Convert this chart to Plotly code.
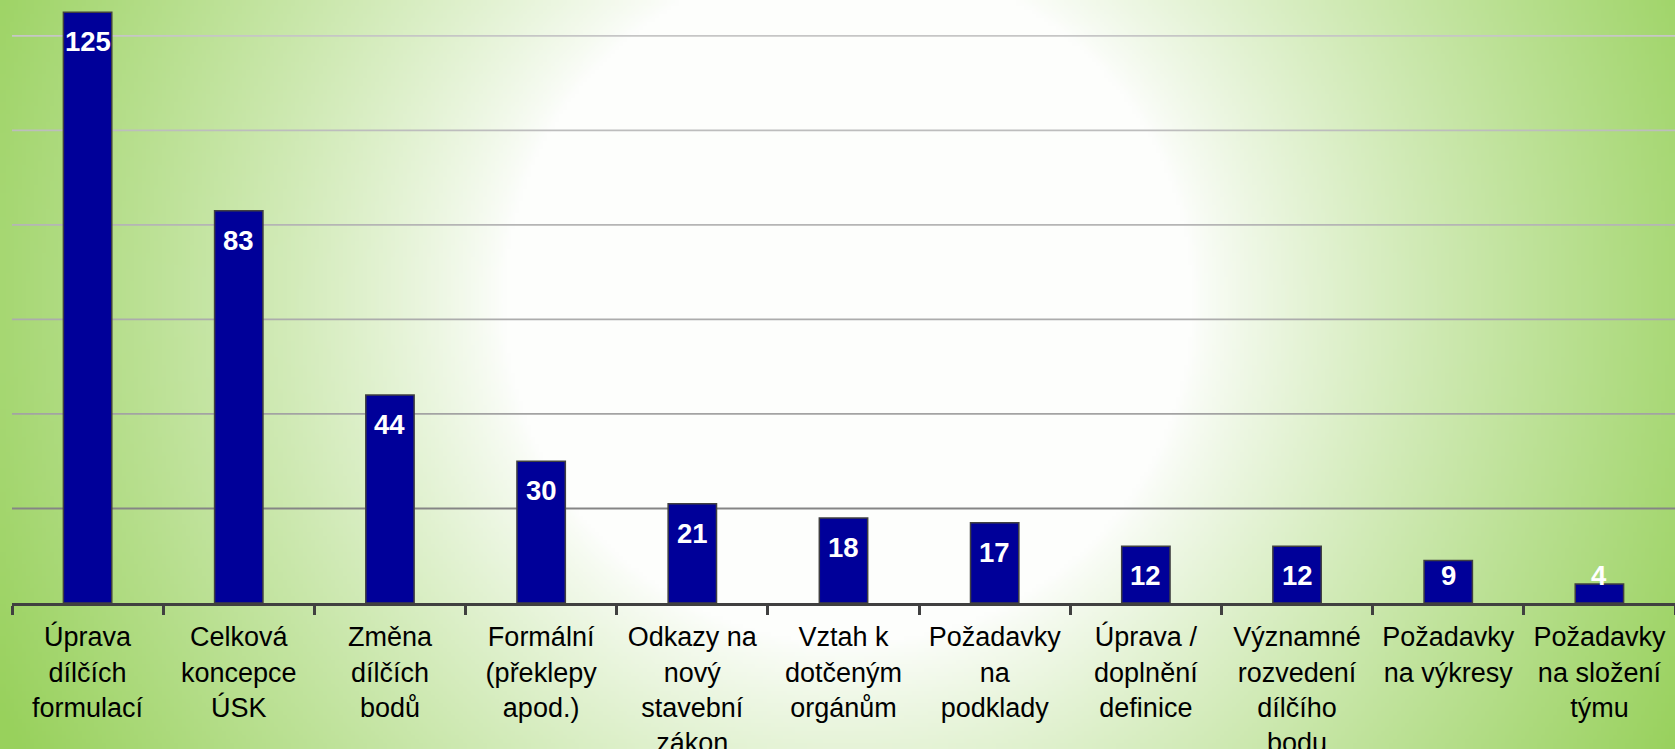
import base64
import struct
import zlib

import numpy as np
import plotly.graph_objects as go

# ---------------- data ----------------
categories = [
    "Úprava<br>dílčích<br>formulací",
    "Celková<br>koncepce<br>ÚSK",
    "Změna<br>dílčích<br>bodů",
    "Formální<br>(překlepy<br>apod.)",
    "Odkazy na<br>nový<br>stavební<br>zákon",
    "Vztah k<br>dotčeným<br>orgánům",
    "Požadavky<br>na<br>podklady",
    "Úprava /<br>doplnění<br>definice",
    "Významné<br>rozvedení<br>dílčího<br>bodu",
    "Požadavky<br>na výkresy",
    "Požadavky<br>na složení<br>týmu",
]
values = [125, 83, 44, 30, 21, 18, 17, 12, 12, 9, 4]
grid_values = [20, 40, 60, 80, 100, 120]
grid_colors = ["#858585", "#a3a3a3", "#acacac", "#b5b5b5", "#bdbdbd", "#c6c6c6"]

W, H = 1675, 749
FONT = "Liberation Sans, Arial, sans-serif"


# ---------------- radial gradient background (PNG) ----------------
def make_png(arr):
    h, w, _ = arr.shape
    raw = b"".join(b"\x00" + arr[r].tobytes() for r in range(h))

    def chunk(tag, data):
        c = struct.pack(">I", len(data)) + tag + data
        return c + struct.pack(">I", zlib.crc32(tag + data) & 0xFFFFFFFF)

    png = b"\x89PNG\r\n\x1a\n"
    png += chunk(b"IHDR", struct.pack(">IIBBBBB", w, h, 8, 2, 0, 0, 0))
    png += chunk(b"IDAT", zlib.compress(raw, 9))
    png += chunk(b"IEND", b"")
    return "data:image/png;base64," + base64.b64encode(png).decode()


S = 4
gw, gh = W // S, H // S + 1
yy, xx = np.mgrid[0:gh, 0:gw].astype(float)
xx = xx * S
yy = yy * S
d = np.sqrt((xx - 845) ** 2 + (yy - 300) ** 2)
t = np.clip((d - 345) / 600.0, 0, 1) ** 0.85
white = np.array([253, 254, 252], float)
green = np.array([152, 209, 92], float)
img = (white[None, None, :] * (1 - t[..., None]) + green[None, None, :] * t[..., None])
img = np.clip(img, 0, 255).astype(np.uint8)
bg_src = make_png(img)

# ---------------- figure ----------------
ML, MR, MT, MB = 12, 0, 0, 146
PW, PH = W - ML - MR, H - MT - MB

fig = go.Figure()
fig.add_trace(
    go.Bar(
        x=categories,
        y=values,
        marker=dict(color="#000099", line=dict(color="#404040", width=1.5)),
        hoverinfo="x+y",
    )
)

# data labels (inside end, white bold)
label_floor = 12
for c, v in zip(categories, values):
    fig.add_annotation(
        x=c,
        y=max(v, label_floor),
        text=str(v),
        showarrow=False,
        yanchor="top",
        yshift=-12,
        font=dict(family=FONT, size=27.5, color="white", weight="bold"),
    )

# gridlines
for gv, gc in zip(grid_values, grid_colors):
    fig.add_shape(
        type="line", xref="paper", x0=0, x1=1, yref="y", y0=gv, y1=gv,
        line=dict(color=gc, width=1.8), layer="below",
    )

fig.add_layout_image(
    dict(
        source=bg_src,
        xref="paper", yref="paper",
        x=-ML / PW, y=1 + MT / PH,
        sizex=W / PW, sizey=H / PH,
        xanchor="left", yanchor="top",
        sizing="stretch", layer="below",
    )
)

fig.update_layout(
    width=W,
    height=H,
    margin=dict(l=ML, r=MR, t=MT, b=MB, autoexpand=False),
    paper_bgcolor="rgba(0,0,0,0)",
    plot_bgcolor="rgba(0,0,0,0)",
    bargap=0.68,
    showlegend=False,
    font=dict(family=FONT),
)
fig.update_xaxes(
    type="category",
    showline=True,
    linecolor="#404040",
    linewidth=3,
    ticks="outside",
    tickson="boundaries",
    ticklen=9,
    tickwidth=3,
    tickcolor="#404040",
    tickangle=0,
    tickfont=dict(family=FONT, size=27, color="black"),
    ticklabelstandoff=8,
    showgrid=False,
    zeroline=False,
)
fig.update_yaxes(
    range=[0, 127.6],
    showgrid=False,
    zeroline=False,
    showline=False,
    showticklabels=False,
    ticks="",
)

fig.write_html(
    "out.html",
    config=dict(displayModeBar=False),
    post_script="document.body.style.margin='0';document.body.style.overflow='hidden';",
)
